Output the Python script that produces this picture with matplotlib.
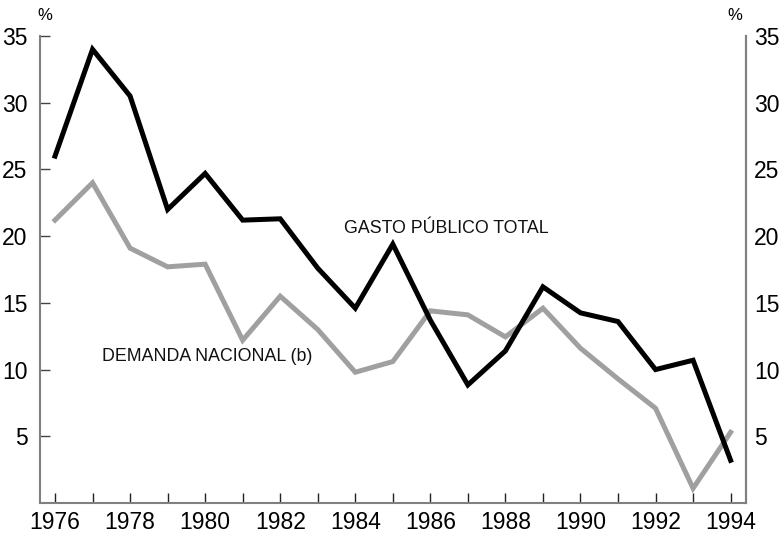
import matplotlib
matplotlib.use("Agg")
import matplotlib.pyplot as plt
from matplotlib.ticker import FixedLocator, FuncFormatter

plt.rcParams['font.family'] = ['Liberation Sans', 'DejaVu Sans']

years = list(range(1976, 1995))
gasto = [26.0, 34.0, 30.5, 22.0, 24.7, 21.2, 21.3, 17.6, 14.6, 19.4,
         13.7, 8.85, 11.4, 16.2, 14.25, 13.6, 10.0, 10.7, 3.2]
demanda = [21.2, 24.0, 19.1, 17.7, 17.9, 12.2, 15.5, 13.0, 9.8, 10.6,
           14.4, 14.1, 12.45, 14.6, 11.6, 9.3, 7.1, 1.1, 5.3]
yticks = [5, 10, 15, 20, 25, 30, 35]

fig = plt.figure(figsize=(7.82, 5.34), dpi=100)
ax = fig.add_axes([40/782, 31/534, 706/782, 467/534])

spine_c = '#808080'
ax.plot(years, demanda, color='#a0a0a0', lw=3.6, solid_joinstyle='miter')
ax.plot(years, gasto, color='black', lw=3.6, solid_joinstyle='miter')

ax.set_xlim(1975.6, 1994.41)
ax.set_ylim(0, 35)

ax.spines['top'].set_visible(False)
for s in ['left', 'right', 'bottom']:
    ax.spines[s].set_color(spine_c)
    ax.spines[s].set_linewidth(1.5)

ax.xaxis.set_major_locator(FixedLocator(years))
ax.xaxis.set_major_formatter(FuncFormatter(lambda v, p: str(int(v)) if int(v) % 2 == 0 else ''))
ax.set_yticks(yticks)
ax.tick_params(axis='x', direction='in', length=7, width=1.0, color='#222222',
               labelsize=16.5, pad=6)
ax.tick_params(axis='y', direction='in', length=7, width=1.0, color='#444444',
               labelsize=16.5, pad=9, right=False)

ax2 = ax.twinx()
ax2.set_ylim(0, 35)
ax2.set_yticks(yticks)
ax2.tick_params(axis='y', length=0, labelsize=16.5, pad=6)
for s in ['top', 'left', 'bottom']:
    ax2.spines[s].set_visible(False)
ax2.spines['right'].set_color(spine_c)
ax2.spines['right'].set_linewidth(1.5)

fig.text(45/782, 1 - 15/534, '%', fontsize=12, ha='center', va='center')
fig.text(735/782, 1 - 15/534, '%', fontsize=12, ha='center', va='center')

ax.text(1983.7, 20.6, 'GASTO PÚBLICO TOTAL', fontsize=12.8, ha='left', va='center', color='#111111')
ax.text(1977.25, 10.95, 'DEMANDA NACIONAL (b)', fontsize=12.8, ha='left', va='center', color='#111111')

fig.savefig('out.png', dpi=100)
